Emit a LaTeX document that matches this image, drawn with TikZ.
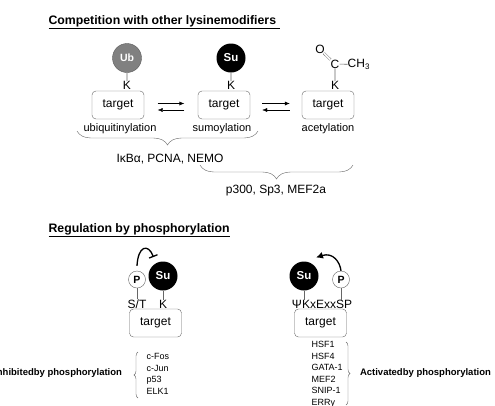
\documentclass[tikz,border=0pt]{standalone}
\usepackage{fontspec}
\setmainfont{Liberation Sans}
\usetikzlibrary{arrows.meta,positioning,decorations.pathreplacing}

\begin{document}
\begin{tikzpicture}[x=1pt,y=-1pt,>={Latex[length=5pt,width=4pt]},
  every node/.style={font=\fontsize{12}{14}\selectfont},
  target/.style={draw=black!60,rounded corners=4pt,minimum width=52pt,minimum height=28pt,inner sep=0pt},
  res/.style={inner sep=0pt},
  tag/.style={circle,inner sep=0pt,font=\fontsize{10.5}{12}\selectfont\bfseries},
  sumo/.style={tag,fill=black,text=white,minimum size=29pt,font=\fontsize{11.5}{12}\selectfont\bfseries},
  phos/.style={tag,draw=black!60,fill=white,minimum size=17pt},
  bond/.style={draw=black!60,line width=0.6pt},
  ttl/.style={anchor=base west,font=\fontsize{12.3}{14}\selectfont\bfseries},
  note/.style={font=\fontsize{11}{13}\selectfont},
  hit/.style={align=left,anchor=west,font=\fontsize{9}{11.5}\selectfont},
  side/.style={font=\fontsize{9.5}{12}\selectfont\bfseries},
  brc/.style={draw=black!60,decorate,decoration={brace,amplitude=#1}},
]
\clip (0,0) rectangle (495,405);

% competition
\node[ttl] (title1) at (45,24) {\underline{Competition with other lysinemodifiers~}};

\node[target] (t1) at (118,105) {target};
\node[target] (t2) at (224,105) {target};
\node[target] (t3) at (328,105) {target};

\node[res] (k1) at (127,85.5) {K};
\node[res] (k2) at (231,85.5) {K};
\node[res] (k3) at (335,85.5) {K};

\node[tag,fill=black!50,draw=black!65,text=white,minimum size=29pt] (ub) at (127,58) {Ub};
\node[sumo] (su1) at (231,58) {Su};
\node[res] (c) at (335,64) {C};
\node[res] (o) at (320,49.5) {O};
\node[res,anchor=west] (ch3) at (347.5,64.5) {CH\textsubscript{3}};

\path[bond] (ub) -- (k1) (su1) -- (k2) (c) -- (k3) (c) -- (ch3);
\draw[black!60,double,double distance=1.6pt,shorten <=-1pt] (o) -- (c);

\node[note] (l1) at (120,129) {ubiquitinylation};
\node[note] (l2) at (222,129) {sumoylation};
\node[note] (l3) at (328,129) {acetylation};

\draw[->,shorten <=13.5pt,shorten >=13.5pt] ([yshift=1.5pt]t1.east) -- ([yshift=1.5pt]t2.west);
\draw[->,shorten <=13.5pt,shorten >=13.5pt] ([yshift=-5pt]t2.west) -- ([yshift=-5pt]t1.east);
\draw[->,shorten <=12pt,shorten >=12pt] ([yshift=1.5pt]t2.east) -- ([yshift=1.5pt]t3.west);
\draw[->,shorten <=12pt,shorten >=12pt] ([yshift=-5pt]t3.west) -- ([yshift=-5pt]t2.east);

\coordinate (b1r) at (258,131);
\coordinate (b1l) at (77,131);
\coordinate (b2r) at (353,165);
\coordinate (b2l) at (200,165);
\draw[brc=14pt] (b1r) -- (b1l);
\draw[brc=14pt] (b2r) -- (b2l);
\node (grp1) at (170,159) {IκBα, PCNA, NEMO};
\node (grp2) at (276,191) {p300, Sp3, MEF2a};

% phosphorylation
\node[ttl] (title2) at (45,232) {\underline{Regulation by phosphorylation}};

\node[target] (t4) at (155.5,323) {target};
\node[target] (t5) at (320.5,323) {target};

\node[res] (st) at (137,304) {S/T};
\node[res] (k4) at (163,304) {K};
\node[phos] (p1) at (137,279.5) {P};
\node[sumo] (su2) at (163,276) {Su};
\path[bond] (p1) -- (st) (su2) -- (k4);

\node[res] (motif) at (322,304) {ΨKxExxSP};
\node[sumo] (su3) at (304,276) {Su};
\node[phos] (p2) at (341,279.5) {P};
\path[bond] (su3) -- (su3 |- motif.north) (p2) -- (p2 |- motif.north);

\coordinate (blk) at (153.5,257);
\coordinate (act) at (316,257.5);
\draw[line width=1.3pt,-{Bar[width=9pt]}] ([yshift=5pt]p1.north) .. controls (138,246) and (148,243) .. (blk);
\draw[line width=1.3pt,-{Latex[length=7pt,width=7pt]}] (p2.north) .. controls (340,262) and (333,252) .. (act);

\node[hit] (inh) at (143,374) {c-Fos\\c-Jun\\p53\\ELK1};
\node[hit] (acv) at (308,374.5) {HSF1\\HSF4\\GATA-1\\MEF2\\SNIP-1\\ERRγ};
\coordinate (b3b) at (138,398);
\coordinate (b3t) at (138,352);
\coordinate (b4t) at (346,342);
\coordinate (b4b) at (346,405);
\draw[brc=4pt] (b3b) -- (b3t);
\draw[brc=4pt] (b4t) -- (b4b);
\node[side,anchor=east] (inhtxt) at (125.5,373.5) {Inhibitedby phosphorylation};
\node[side,anchor=west] (acvtxt) at (356.5,373.5) {Activatedby phosphorylation};
\end{tikzpicture}
\end{document}
